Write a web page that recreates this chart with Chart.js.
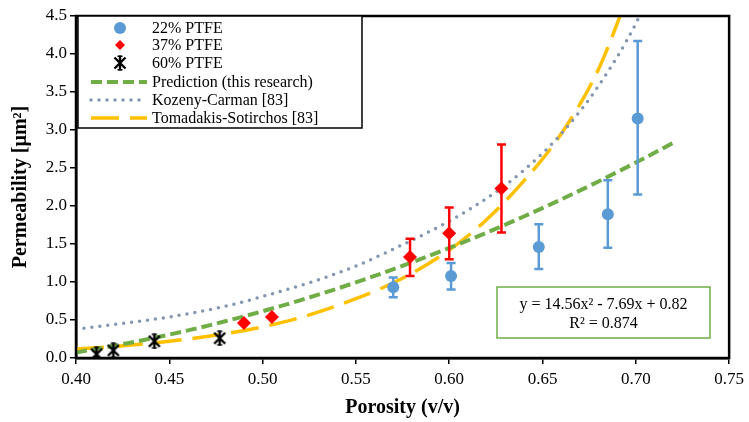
<!DOCTYPE html>
<html>
<head>
<meta charset="utf-8">
<script src="https://cdn.jsdelivr.net/npm/chart.js@4/dist/chart.umd.min.js"></script>
<style>
  html, body { margin: 0; padding: 0; background: #fff; }
  #wrap { width: 749px; height: 422px; }
</style>
</head>
<body>
<div id="wrap"><canvas id="c" width="749" height="422"></canvas></div>
<script>
const SERIF = '"Liberation Serif", "Times New Roman", serif';

// Measured permeability (µm²) against porosity, with error-bar limits
const ptfe22Porosity = [0.570, 0.601, 0.648, 0.685, 0.701];
const ptfe22Perm     = [0.93, 1.08, 1.46, 1.89, 3.15];
const ptfe22Low      = [0.80, 0.90, 1.17, 1.45, 2.15];
const ptfe22High     = [1.06, 1.25, 1.76, 2.34, 4.17];

const ptfe37Porosity = [0.490, 0.505, 0.579, 0.600, 0.628];
const ptfe37Perm     = [0.46, 0.54, 1.33, 1.64, 2.23];
const ptfe37Low      = [null, null, 1.08, 1.30, 1.65];
const ptfe37High     = [null, null, 1.57, 1.98, 2.81];

const ptfe60Porosity = [0.411, 0.420, 0.442, 0.477];
const ptfe60Perm     = [0.05, 0.10, 0.22, 0.26];

// Prediction trendline: y = a·x² + b·x + c, drawn over the porosity range below
const fitA = 14.56, fitB = -7.69, fitC = 0.82, fitR2 = 0.874;
const predictionPorosity = [0.40, 0.42, 0.44, 0.46, 0.48, 0.50, 0.52, 0.54, 0.56, 0.58,
                            0.60, 0.62, 0.64, 0.66, 0.68, 0.70, 0.72];

// Literature models
const kozenyPorosity = [0.40, 0.42, 0.45, 0.48, 0.50, 0.53, 0.55, 0.58, 0.60, 0.62, 0.64, 0.66, 0.68, 0.70, 0.71];
const kozenyPerm     = [0.38, 0.44, 0.54, 0.68, 0.81, 1.03, 1.21, 1.55, 1.80, 2.10, 2.47, 2.95, 3.58, 4.40, 4.95];

const tomadakisPorosity = [0.40, 0.42, 0.45, 0.48, 0.50, 0.52, 0.55, 0.575, 0.60, 0.62, 0.64, 0.66, 0.68, 0.70];
const tomadakisPerm     = [0.12, 0.15, 0.22, 0.32, 0.41, 0.53, 0.78, 1.05, 1.42, 1.82, 2.33, 2.95, 3.80, 5.05];

// Axis ticks
const xTicks = [0.40, 0.45, 0.50, 0.55, 0.60, 0.65, 0.70, 0.75];
const yTicks = [0.0, 0.5, 1.0, 1.5, 2.0, 2.5, 3.0, 3.5, 4.0, 4.5];

const BLUE = '#5B9BD5', RED = '#FF0000', BLACK = '#000000';
const GREEN = '#70AD47', SLATE = '#8497B0', GOLD = '#FFC000';

const pts = (xs, ys) => xs.map((x, i) => ({ x, y: ys[i] }));
const fmt = v => Math.abs(v).toFixed(2);
const eqText = 'y = ' + fitA.toFixed(2) + 'x\u00B2 ' + (fitB < 0 ? '- ' : '+ ') + fmt(fitB) +
               'x ' + (fitC < 0 ? '- ' : '+ ') + fmt(fitC);
const r2Text = 'R\u00B2 = ' + fitR2.toFixed(3);

// Asterisk-style marker: an X crossed by a vertical stroke
function makeStar(size) {
  const cv = document.createElement('canvas');
  cv.width = size; cv.height = size;
  const g = cv.getContext('2d');
  const m = 2.5, s = size - 2.5, c = size / 2;
  g.strokeStyle = BLACK; g.lineWidth = 2.4; g.lineCap = 'butt';
  g.beginPath();
  g.moveTo(m, m); g.lineTo(s, s);
  g.moveTo(s, m); g.lineTo(m, s);
  g.moveTo(c, 0.5); g.lineTo(c, size - 0.5);
  g.stroke();
  g.lineWidth = 1.6;
  g.beginPath();
  g.moveTo(c - 2.5, 1.2); g.lineTo(c + 2.5, 1.2);
  g.moveTo(c - 2.5, size - 1.2); g.lineTo(c + 2.5, size - 1.2);
  g.stroke();
  return cv;
}
const starImg = makeStar(16);

const errorBars = {
  id: 'errorBars',
  afterDatasetsDraw(chart) {
    const ctx = chart.ctx, yScale = chart.scales.y;
    chart.data.datasets.forEach((ds, di) => {
      if (!ds.errLow) return;
      const meta = chart.getDatasetMeta(di);
      ctx.save();
      ctx.strokeStyle = ds.errColor;
      ctx.lineWidth = 2.5;
      meta.data.forEach((pt, i) => {
        const lo = ds.errLow[i], hi = ds.errHigh[i];
        if (lo == null || hi == null) return;
        const x = pt.x, yl = yScale.getPixelForValue(lo), yh = yScale.getPixelForValue(hi);
        ctx.beginPath();
        ctx.moveTo(x, yl); ctx.lineTo(x, yh);
        ctx.moveTo(x - 4.5, yl); ctx.lineTo(x + 4.5, yl);
        ctx.moveTo(x - 4.5, yh); ctx.lineTo(x + 4.5, yh);
        ctx.stroke();
      });
      ctx.restore();
    });
  }
};

const frameAndNotes = {
  id: 'frameAndNotes',
  afterDraw(chart) {
    const ctx = chart.ctx, a = chart.chartArea;
    ctx.save();
    // plot frame
    ctx.strokeStyle = BLACK; ctx.lineWidth = 2.5;
    ctx.strokeRect(a.left, a.top, a.right - a.left, a.bottom - a.top);

    // equation box
    const bx = 497, by = 287, bw = 213, bh = 51;
    ctx.fillStyle = '#fff';
    ctx.fillRect(bx, by, bw, bh);
    ctx.strokeStyle = GREEN; ctx.lineWidth = 1.5;
    ctx.strokeRect(bx, by, bw, bh);
    ctx.fillStyle = BLACK;
    ctx.font = '16px ' + SERIF;
    ctx.textAlign = 'center'; ctx.textBaseline = 'middle';
    ctx.fillText(eqText, bx + bw / 2, by + 18);
    ctx.fillText(r2Text, bx + bw / 2, by + 37);

    // legend
    const lx = 78, ly = 16, lw = 284, lh = 112;
    ctx.fillStyle = '#fff';
    ctx.fillRect(lx, ly, lw, lh);
    ctx.strokeStyle = BLACK; ctx.lineWidth = 1.5;
    ctx.strokeRect(lx, ly, lw, lh);
    const rows = [28, 45, 63, 82, 100, 118];
    const mx = 120, tx = 152;
    chart.data.datasets.forEach((ds, i) => {
      const y = rows[i];
      ctx.save();
      if (ds.showLine) {
        ctx.strokeStyle = ds.borderColor;
        ctx.lineWidth = ds.borderWidth;
        ctx.lineCap = ds.borderCapStyle || 'butt';
        ctx.setLineDash(ds.borderDash || []);
        ctx.beginPath(); ctx.moveTo(91, y); ctx.lineTo(147, y); ctx.stroke();
      } else {
        ctx.fillStyle = ds.backgroundColor;
        ctx.strokeStyle = ds.borderColor;
        Chart.helpers.drawPoint(ctx, {
          pointStyle: ds.pointStyle, radius: ds.legendRadius, rotation: 0, borderWidth: 0
        }, mx, y);
      }
      ctx.restore();
      ctx.fillStyle = BLACK;
      ctx.font = '16px ' + SERIF;
      ctx.textAlign = 'left'; ctx.textBaseline = 'middle';
      ctx.fillText(ds.label, tx, y + 1);
    });
    ctx.restore();
  }
};

new Chart(document.getElementById('c'), {
  type: 'scatter',
  data: {
    datasets: [
      { label: '22% PTFE', data: pts(ptfe22Porosity, ptfe22Perm),
        pointStyle: 'circle', pointRadius: 6, legendRadius: 6,
        backgroundColor: BLUE, borderColor: BLUE, pointBorderWidth: 0,
        errLow: ptfe22Low, errHigh: ptfe22High, errColor: BLUE },
      { label: '37% PTFE', data: pts(ptfe37Porosity, ptfe37Perm),
        pointStyle: 'rectRot', pointRadius: 7, legendRadius: 5,
        backgroundColor: RED, borderColor: RED, pointBorderWidth: 0,
        errLow: ptfe37Low, errHigh: ptfe37High, errColor: RED },
      { label: '60% PTFE', data: pts(ptfe60Porosity, ptfe60Perm),
        pointStyle: starImg, pointRadius: 8, legendRadius: 6,
        backgroundColor: BLACK, borderColor: BLACK },
      { label: 'Prediction (this research)',
        data: predictionPorosity.map(x => ({ x, y: fitA * x * x + fitB * x + fitC })),
        showLine: true, pointRadius: 0, borderColor: GREEN, borderWidth: 4,
        borderDash: [11, 5], cubicInterpolationMode: 'monotone' },
      { label: 'Kozeny-Carman [83]', data: pts(kozenyPorosity, kozenyPerm),
        showLine: true, pointRadius: 0, borderColor: SLATE, borderWidth: 3.5,
        borderDash: [0, 8], borderCapStyle: 'round', cubicInterpolationMode: 'monotone' },
      { label: 'Tomadakis-Sotirchos [83]', data: pts(tomadakisPorosity, tomadakisPerm),
        showLine: true, pointRadius: 0, borderColor: GOLD, borderWidth: 3.5,
        borderDash: [28, 11], cubicInterpolationMode: 'monotone' }
    ]
  },
  options: {
    responsive: false,
    animation: false,
    devicePixelRatio: 1,
    layout: { padding: { left: 0, top: 16, right: 15, bottom: 0 } },
    plugins: { legend: { display: false }, tooltip: { enabled: false } },
    scales: {
      x: {
        type: 'linear', min: xTicks[0], max: xTicks[xTicks.length - 1],
        afterFit: s => { s.height = 64; },
        afterBuildTicks: s => { s.ticks = xTicks.map(v => ({ value: v })); },
        ticks: { callback: v => Number(v).toFixed(2), color: BLACK, padding: 5,
                 font: { family: SERIF, size: 17 }, maxRotation: 0 },
        grid: { drawOnChartArea: false, drawTicks: true, tickLength: 6, color: BLACK, lineWidth: 1.5 },
        border: { color: BLACK, width: 2.5 },
        title: { display: true, text: 'Porosity (v/v)', color: BLACK,
                 font: { family: SERIF, size: 20, weight: 'bold' }, padding: { top: 0, bottom: 2 } }
      },
      y: {
        type: 'linear', min: yTicks[0], max: yTicks[yTicks.length - 1],
        afterFit: s => { s.width = 76; },
        afterBuildTicks: s => { s.ticks = yTicks.map(v => ({ value: v })); },
        ticks: { callback: v => Number(v).toFixed(1), color: BLACK, padding: 3,
                 font: { family: SERIF, size: 17 } },
        grid: { drawOnChartArea: false, drawTicks: true, tickLength: 6, color: BLACK, lineWidth: 1.5 },
        border: { color: BLACK, width: 2.5 },
        title: { display: true, text: 'Permeability [\u00B5m\u00B2]', color: BLACK,
                 font: { family: SERIF, size: 20, weight: 'bold' }, padding: { top: 9, bottom: 0 } }
      }
    }
  },
  plugins: [errorBars, frameAndNotes]
});
</script>
</body>
</html>
